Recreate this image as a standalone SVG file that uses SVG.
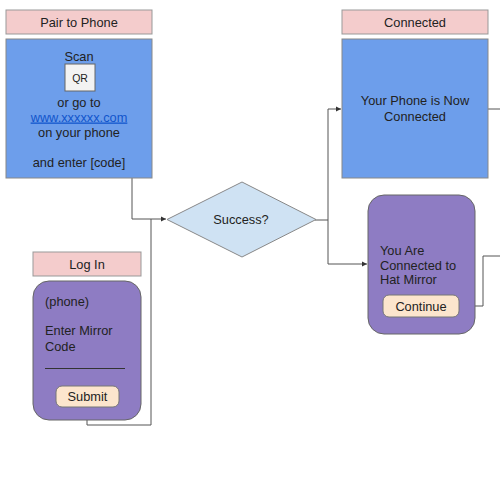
<svg xmlns="http://www.w3.org/2000/svg" width="500" height="500" viewBox="0 0 500 500">
<defs>
<marker id="arr" markerWidth="6" markerHeight="6" refX="5" refY="3" orient="auto" markerUnits="userSpaceOnUse">
<path d="M0,0.5 L5,3 L0,5.5 z" fill="#333"/>
</marker>
<style>
text{font-family:"Liberation Sans",Arial,sans-serif;font-size:12.8px;fill:#222}
.lbl{fill:#f4cccc;stroke:#999;stroke-width:1}
.blue{fill:#6d9eeb;stroke:#888;stroke-width:1}
.purple{fill:#8e7cc3;stroke:#666;stroke-width:1}
.btn{fill:#fce5cd;stroke:#777;stroke-width:1}
.c{text-anchor:middle}
.conn{fill:none;stroke:#555;stroke-width:1}
</style>
</defs>
<rect width="500" height="500" fill="#fff"/>

<g id="connectors">
<path class="conn" d="M95,78 H132 V219 H166" marker-end="url(#arr)"/>
<path class="conn" d="M87,407 V425 H151 V219"/>
<path class="conn" d="M315,220 H328 V109 H341" marker-end="url(#arr)"/>
<path class="conn" d="M328,220 V264 H367" marker-end="url(#arr)"/>
<path class="conn" d="M488,109 H500"/>
<path class="conn" d="M459,306 H483 V256 H500"/>
</g>

<g id="pair-label">
<rect class="lbl" x="6" y="10" width="146" height="24"/>
<text class="c" x="79" y="26.5">Pair to Phone</text>
</g>
<g id="pair-box">
<rect class="blue" x="6" y="39" width="146" height="139"/>
<text class="c" x="79" y="60.5">Scan</text>
<rect x="65" y="64" width="30" height="27" fill="#f3f3f3" stroke="#666"/>
<text class="c" x="80" y="81.5" style="font-size:10.5px">QR</text>
<text class="c" x="79" y="106.5">or go to</text>
<text class="c" x="79" y="121.5" style="fill:#1155cc;text-decoration:underline">www.xxxxxx.com</text>
<text class="c" x="79" y="136.5">on your phone</text>
<text class="c" x="79" y="166.5">and enter [code]</text>
</g>

<g id="success">
<polygon points="167,219.5 242,182 316,219.5 242,257" fill="#cfe2f3" stroke="#888"/>
<text class="c" x="241" y="224">Success?</text>
</g>

<g id="connected-label">
<rect class="lbl" x="342" y="10" width="146" height="24"/>
<text class="c" x="415" y="26.5">Connected</text>
</g>
<g id="connected-box">
<rect class="blue" x="342" y="39" width="146" height="139"/>
<text class="c" x="415" y="105">Your Phone is Now</text>
<text class="c" x="415" y="121">Connected</text>
</g>

<g id="hat-mirror">
<rect class="purple" x="368" y="195" width="107" height="139" rx="16"/>
<text x="380" y="255">You Are</text>
<text x="380" y="269.5">Connected to</text>
<text x="380" y="284">Hat Mirror</text>
<rect class="btn" x="383" y="295" width="76" height="22" rx="6"/>
<text class="c" x="421" y="310.5">Continue</text>
</g>

<g id="login-label">
<rect class="lbl" x="33" y="252" width="108" height="24"/>
<text class="c" x="87" y="268.5">Log In</text>
</g>
<g id="login-box">
<rect class="purple" x="33" y="281" width="108" height="139" rx="16"/>
<text x="45" y="306">(phone)</text>
<text x="45" y="335">Enter Mirror</text>
<text x="45" y="351">Code</text>
<line x1="45" y1="368.5" x2="125" y2="368.5" stroke="#333" stroke-width="1"/>
<rect class="btn" x="56" y="386" width="63" height="21" rx="6"/>
<text class="c" x="87.5" y="401">Submit</text>
</g>
</svg>
